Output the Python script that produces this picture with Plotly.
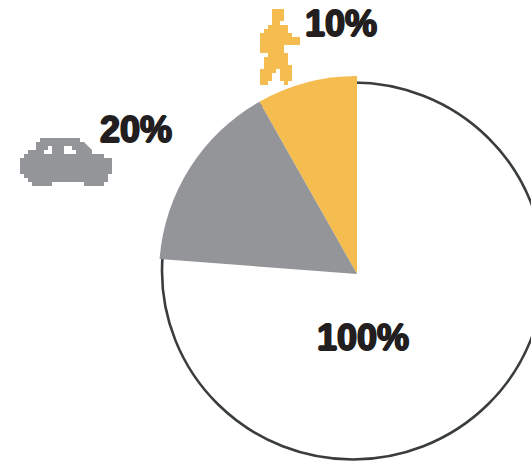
import plotly.graph_objects as go

W, H = 531, 463

# Data
labels = ["10%", "20%", "100%"]
slice_names = ["Walking", "Car"]
slice_shares = [8.2, 15.6]      # share of the full circle
slice_radius = [198, 198]
slice_colors = ["#f5bc50", "#939598"]

INK = "#231f20"
RING = "#3a3d3d"

def px(x, y):
    return x / W, 1 - y / H

def path_from(points):
    parts = []
    for i, (x, y) in enumerate(points):
        u, v = px(x, y)
        parts.append(("M" if i == 0 else "L") + f"{u:.5f},{v:.5f}")
    return " ".join(parts) + " Z"

# theta measured counterclockwise from the right; wedges begin at 12 o'clock
thetas, widths = [], []
start = 90.0
for s in slice_shares:
    w = s * 3.6
    thetas.append(start + w / 2)
    widths.append(w)
    start += w

fig = go.Figure()
fig.add_trace(go.Barpolar(
    r=slice_radius, theta=thetas, width=widths, text=slice_names,
    marker=dict(color=slice_colors, line=dict(width=0)), showlegend=False,
    hoverinfo="skip",
))

CX, CY, R = 357, 274, 200
left, top = px(CX - R, CY - R)
right, bottom = px(CX, CY)
dom_x = [left, right]
dom_y = [bottom, top]

car = [(40,138),(80,138),(80,142),(84,142),(88,146),(92,150),(92,154),(104,154),(104,158),(112,158),
       (112,174),(108,174),(108,182),(104,182),(104,186),(84,186),(84,182),(52,182),(52,186),(32,186),
       (32,182),(28,182),(28,178),(24,178),(24,174),(20,174),(20,158),(24,158),(24,154),(28,154),
       (28,150),(36,150),(36,142),(40,142)]
win_l = [(48,146),(52,146),(52,154),(44,154),(44,150),(48,150)]
win_r = [(64,146),(72,146),(72,150),(76,150),(76,154),(64,154)]
walker_zoom = [(96,27),(132,27),(132,63),(120,63),(120,75),(144,75),(144,99),(156,99),(156,111),(180,111),
               (180,135),(132,135),(132,159),(144,159),(144,195),(156,195),(156,243),(144,243),(144,255),
               (132,255),(132,243),(120,243),(120,207),(108,207),(108,219),(96,219),(96,243),(84,243),
               (84,255),(60,255),(60,207),(72,207),(72,171),(84,171),(84,159),(60,159),(60,99),(72,99),
               (72,87),(84,87),(84,75),(96,75)]
walker = [(240 + x / 3, y / 3) for x, y in walker_zoom]

x0, y0 = px(162, 459.5)
x1, y1 = px(544, 82.5)
shapes = [
    dict(type="circle", xref="paper", yref="paper", x0=x0, y0=y0, x1=x1, y1=y1,
         line=dict(color=RING, width=2.6), fillcolor="rgba(0,0,0,0)", layer="below"),
    dict(type="path", xref="paper", yref="paper", path=path_from(car),
         fillcolor=slice_colors[1], line=dict(width=0)),
    dict(type="path", xref="paper", yref="paper", path=path_from(win_l),
         fillcolor="white", line=dict(width=0)),
    dict(type="path", xref="paper", yref="paper", path=path_from(win_r),
         fillcolor="white", line=dict(width=0)),
    dict(type="path", xref="paper", yref="paper", path=path_from(walker),
         fillcolor=slice_colors[0], line=dict(width=0)),
]

label_pos = [(340.5, 24), (136, 129), (362.5, 337)]
annotations = []
for t, (x, y) in zip(labels, label_pos):
    u, v = px(x, y)
    annotations.append(dict(
        text=f"<b>{t}</b>", x=u, y=v, xref="paper", yref="paper",
        xanchor="center", yanchor="middle", showarrow=False,
        font=dict(family="Liberation Sans", size=36, color=INK,
                  shadow=f"1px 0 0 {INK}, -1px 0 0 {INK}, 0 1px 0 {INK}, 0 -1px 0 {INK}"),
    ))

fig.update_layout(
    width=W, height=H, margin=dict(l=0, r=0, t=0, b=0),
    paper_bgcolor="white", plot_bgcolor="white",
    polar=dict(
        domain=dict(x=dom_x, y=dom_y),
        sector=[90, 180],
        bgcolor="rgba(0,0,0,0)",
        radialaxis=dict(visible=False, range=[0, R]),
        angularaxis=dict(visible=False, direction="counterclockwise", rotation=0),
        bargap=0,
    ),
    shapes=shapes, annotations=annotations, showlegend=False,
)
fig.write_html("out.html", config={"displayModeBar": False},
               post_script="document.body.style.margin='0';document.body.style.overflow='hidden';")
